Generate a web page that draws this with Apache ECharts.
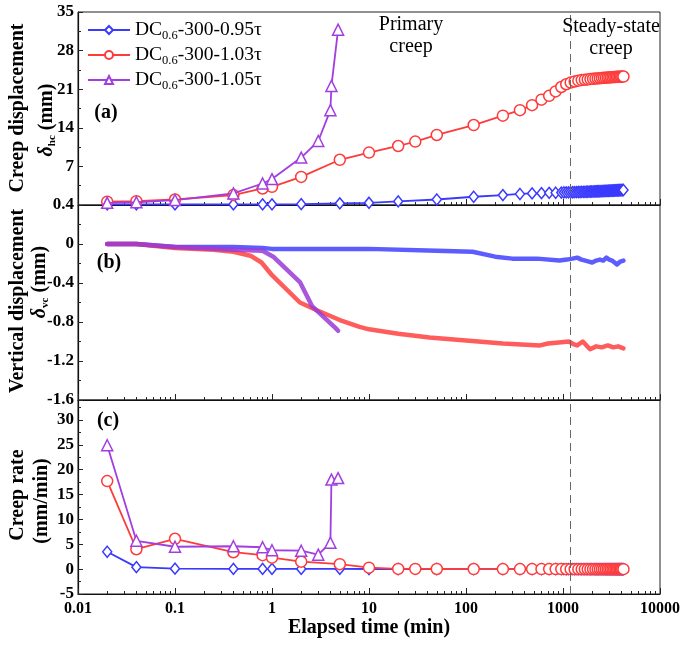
<!DOCTYPE html>
<html><head><meta charset="utf-8">
<script src="https://cdn.jsdelivr.net/npm/echarts@6/dist/echarts.min.js"></script>
<style>html,body{margin:0;padding:0;background:#fff}#c{width:685px;height:646px}</style>
</head><body><div id="c"></div>
<script>
// ---------- DATA ----------
const seriesNames = ['DC0.6-300-0.95τ', 'DC0.6-300-1.03τ', 'DC0.6-300-1.05τ'];
const xTickLabels = ['0.01', '0.1', '1', '10', '100', '1000', '10000'];

// Blue (0.95τ) sampled times (min)
const blueTimes = [0.02,0.04,0.1,0.4,0.8,1,2,5,10,20,50,120,240,360,480,600,720,840,960,
  1020,1080,1140,1200,1260,1320,1380,1440,1500,1560,1620,1680,1740,1800,1860,1920,1980,2040,2100,
  2160,2220,2280,2340,2400,2460,2520,2580,2640,2700,2760,2820,2880,2940,3000,3060,3120,3180,3240,
  3300,3360,3420,3480,3540,3600,3660,3720,3780,3840,3900,3960,4020,4080,4140,4200];
const blueCreepDisp = [0.1,0.1,0.1,0.1,0.1,0.12,0.15,0.3,0.4,0.65,1.0,1.5,1.8,2.0,2.1,2.15,2.2,2.22,2.25,
  2.28,2.29,2.3,2.31,2.32,2.33,2.34,2.35,2.36,2.37,
  2.38,2.39,2.4,2.41,2.42,2.43,2.44,2.45,2.46,2.47,
  2.48,2.49,2.5,2.5,2.51,2.52,2.53,2.54,2.55,2.55,
  2.56,2.57,2.58,2.59,2.6,2.6,2.61,2.62,2.63,2.63,
  2.64,2.65,2.66,2.66,2.67,2.68,2.68,2.69,2.7,2.7,
  2.71,2.71,2.72,2.72];
const blueCreepRate = [3.5,0.4,0.1,0.05,0.05,0.05,0.04,0.04,0.03,0.03,0.02,0.01,0.01,0.01,0.01,0.01,0.01,0.01,0.01,
  0,0,0,0,0,0,0,0,0,0, 0,0,0,0,0,0,0,0,0,0, 0,0,0,0,0,0,0,0,0,0,
  0,0,0,0,0,0,0,0,0,0, 0,0,0,0,0,0,0,0,0,0, 0,0,0,0];

// Red (1.03τ)
const redTimes = [0.02,0.04,0.1,0.4,0.8,1,2,5,10,20,30,50,120,240,360,480,600,720,840,960,
  1080,1200,1320,1440,1560,1680,1800,1920,2040,2160,2280,2400,2520,2640,2760,2880,3000,3120,3240,
  3360,3480,3600,3720,3840,3960,4080,4200];
const redCreepDisp = [0.6,0.7,1.0,1.8,3.0,3.3,5.1,8.2,9.5,10.7,11.5,12.7,14.5,16.2,17.2,18.1,19.1,19.8,20.6,21.4,
  21.9,22.2,22.4,22.55,22.65,22.72,22.78,22.84,22.88,22.92,
  22.96,23.0,23.03,23.06,23.09,23.12,23.14,23.16,23.18,23.2,
  23.22,23.24,23.26,23.27,23.28,23.29,23.3];
const redCreepRate = [17.7,4.0,6.1,3.4,2.8,2.3,1.5,1.0,0.3,0.05,0.04,0.03,0.02,0.01,0.01,0.01,0.01,0.01,0.01,0.01,
  0,0,0,0,0,0,0,0,0,0, 0,0,0,0,0,0,0,0,0,0, 0,0,0,0,0,0,0];

// Purple (1.05τ)
const purpleTimes = [0.02,0.04,0.1,0.4,0.8,1,2,3,4,4.1,4.8];
const purpleCreepDisp = [0.4,0.5,0.9,2.1,3.9,4.7,8.6,11.6,17.2,21.6,31.8];
const purpleCreepRate = [24.9,5.7,4.5,4.6,4.4,3.8,3.7,2.9,5.3,18.0,18.3];

// Vertical displacement (continuous records)
const blueVTimes = [0.02,0.04,0.1,0.4,0.8,1,2,5,10,50,117,200,300,540,920,1100,1250,1400,1550,1700,1850,2000,2200,2400,2600,2800,3000,3200,3400,3600,3900,4200];
const blueVert = [0,0,-0.03,-0.03,-0.04,-0.05,-0.05,-0.05,-0.05,-0.07,-0.08,-0.13,-0.15,-0.15,-0.17,-0.16,-0.15,-0.14,-0.16,-0.17,-0.18,-0.19,-0.17,-0.16,-0.17,-0.14,-0.16,-0.17,-0.19,-0.21,-0.18,-0.17];
const redVTimes = [0.02,0.04,0.1,0.25,0.4,0.6,0.78,1,1.94,2.9,5,8,10,20,42,100,240,580,700,900,1150,1300,1400,1600,1900,2200,2500,2900,3300,3700,4200];
const redVert = [0,0,-0.04,-0.06,-0.08,-0.12,-0.19,-0.32,-0.6,-0.68,-0.78,-0.85,-0.875,-0.92,-0.96,-0.99,-1.02,-1.04,-1.02,-1.01,-1.0,-1.03,-1.04,-1.0,-1.08,-1.05,-1.06,-1.04,-1.06,-1.05,-1.07];
const purpleVTimes = [0.02,0.04,0.1,0.4,0.8,1.03,1.94,2.6,4.5,4.8];
const purpleVert = [0,0,-0.03,-0.06,-0.07,-0.13,-0.39,-0.64,-0.86,-0.89];

const steadyStart = 1200; // dashed divider (min)

// ---------- STYLE ----------
const colors = ['#3a3aff', '#ff3a3a', '#a23ee0'];
const vColors = ['#3f3fff', '#ff4040', '#9a3bd6'];
const symbols = ['diamond', 'circle', 'triangle'];
const symSizes = [[9, 11], 11, 11];
const serif = 'Liberation Serif, Times New Roman, serif';

const zip = (t, v) => t.map((x, i) => [x, v[i]]);

const grids = [
  {left: 78, top: 12, width: 582, height: 193},
  {left: 78, top: 205, width: 582, height: 195},
  {left: 78, top: 400, width: 582, height: 194}
].map(g => Object.assign(g, {show: true, borderColor: '#222', borderWidth: 1, backgroundColor: 'transparent'}));

const xAxes = [0, 1, 2].map(i => ({
  type: 'log', logBase: 10, gridIndex: i, min: 0.01, max: 10000, splitNumber: 6,
  axisLine: {onZero: false, lineStyle: {color: '#111', width: 1.2}},
  axisTick: {show: true, inside: true, length: 6, lineStyle: {color: '#222', width: 1}},
  minorTick: {show: true, splitNumber: 9, length: 3, lineStyle: {color: '#222', width: 1}},
  splitLine: {show: false},
  axisLabel: {
    show: i === 2, margin: 7, color: '#000', fontFamily: serif, fontWeight: 'bold', fontSize: 16,
    formatter: v => {
      const s = String(Number(v.toPrecision(6)));
      return xTickLabels.indexOf(s) >= 0 ? s : '';
    }
  }
}));

const yBase = {
  type: 'value',
  axisLine: {show: true, onZero: false, lineStyle: {color: '#111', width: 1.2}},
  axisTick: {show: true, inside: true, length: 5, lineStyle: {color: '#222', width: 1}},
  minorTick: {show: true, splitNumber: 2, length: 3, lineStyle: {color: '#222', width: 1}},
  splitLine: {show: false},
  axisLabel: {margin: 4, color: '#000', fontFamily: serif, fontWeight: 'bold', fontSize: 17}
};
const yAxes = [
  Object.assign({}, yBase, {gridIndex: 0, min: 0, max: 35, interval: 7,
    axisLabel: Object.assign({}, yBase.axisLabel, {showMinLabel: false})}),
  Object.assign({}, yBase, {gridIndex: 1, min: -1.6, max: 0.4, interval: 0.4,
    axisLabel: Object.assign({}, yBase.axisLabel, {formatter: v => String(Math.round(v * 10) / 10)})}),
  Object.assign({}, yBase, {gridIndex: 2, min: -5, max: 34, interval: 5,
    axisLabel: Object.assign({}, yBase.axisLabel, {showMaxLabel: false,
      formatter: v => (v > 30 ? '' : String(v))})})
];

const markLine = {
  silent: true, symbol: 'none', label: {show: false},
  lineStyle: {type: [8, 5], color: '#666', width: 1},
  data: [{xAxis: steadyStart}]
};

function markerSeries(idx, grid, times, vals, withMark) {
  const s = {
    type: 'line', name: seriesNames[idx], xAxisIndex: grid, yAxisIndex: grid,
    data: zip(times, vals), symbol: symbols[idx], symbolSize: symSizes[idx], showAllSymbol: true,
    lineStyle: {color: colors[idx], width: 1.8},
    itemStyle: {color: '#fff', borderColor: colors[idx], borderWidth: 1.5},
    emphasis: {disabled: true}, z: 3 + idx
  };
  if (withMark) s.markLine = markLine;
  return s;
}
function vertSeries(idx, times, vals, withMark) {
  const s = {
    type: 'line', name: seriesNames[idx], xAxisIndex: 1, yAxisIndex: 1,
    data: zip(times, vals), showSymbol: false, symbol: 'none',
    lineStyle: {color: vColors[idx], width: 4.5, opacity: 0.85, cap: 'round', join: 'round'},
    itemStyle: {color: vColors[idx]},
    emphasis: {disabled: true}, z: 3 + idx
  };
  if (withMark) s.markLine = markLine;
  return s;
}

const series = [
  markerSeries(0, 0, blueTimes, blueCreepDisp, true),
  markerSeries(1, 0, redTimes, redCreepDisp, false),
  markerSeries(2, 0, purpleTimes, purpleCreepDisp, false),
  vertSeries(0, blueVTimes, blueVert, true),
  vertSeries(1, redVTimes, redVert, false),
  vertSeries(2, purpleVTimes, purpleVert, false),
  markerSeries(0, 2, blueTimes, blueCreepRate, true),
  markerSeries(1, 2, redTimes, redCreepRate, false),
  markerSeries(2, 2, purpleTimes, purpleCreepRate, false)
];

function vText(x, y, text, rich) {
  return {type: 'text', x: x, y: y, rotation: Math.PI / 2, z: 100, style: {
    text: text, fill: '#000', font: 'bold 20px ' + serif,
    align: 'center', verticalAlign: 'middle', textAlign: 'center', textVerticalAlign: 'middle',
    rich: rich
  }};
}
const deltaRich = {
  d: {fontFamily: serif, fontWeight: 'bold', fontStyle: 'italic', fontSize: 20, lineHeight: 22, verticalAlign: 'middle'},
  s: {fontFamily: serif, fontWeight: 'bold', fontSize: 11, lineHeight: 22, verticalAlign: 'bottom'},
  m: {fontFamily: serif, fontWeight: 'bold', fontSize: 20, lineHeight: 22, verticalAlign: 'middle'}
};
function hText(x, y, text, size, bold) {
  return {type: 'text', x: x, y: y, z: 100, style: {
    text: text, fill: '#000', font: (bold ? 'bold ' : '') + size + 'px ' + serif,
    align: 'center', verticalAlign: 'middle', textAlign: 'center', textVerticalAlign: 'middle',
    lineHeight: 22
  }};
}

const option = {
  animation: false,
  backgroundColor: '#fff',
  grid: grids, xAxis: xAxes, yAxis: yAxes, series: series,
  legend: {
    data: seriesNames, orient: 'vertical', left: 87, top: 20, itemWidth: 42, itemHeight: 10, itemGap: 3,
    selectedMode: false, padding: 0,
    formatter: n => '{n|DC}{s|0.6}{n|' + n.slice(5) + '}',
    textStyle: {color: '#000', fontFamily: serif, fontSize: 19.5, rich: {
      n: {fontFamily: serif, fontSize: 19.5, color: '#000', lineHeight: 24, verticalAlign: 'middle'},
      s: {fontFamily: serif, fontSize: 12.5, color: '#000', lineHeight: 12, verticalAlign: 'bottom'}
    }}
  },
  graphic: [
    vText(18, 108, 'Creep displacement'),
    vText(47, 120, '{d|δ}{s|hc}{m| (mm)}', deltaRich),
    vText(18, 301, 'Vertical displacement'),
    vText(40, 282, '{d|δ}{s|vc}{m| (mm)}', deltaRich),
    vText(18, 495, 'Creep rate'),
    vText(42, 501, '(mm/min)'),
    hText(106, 113, '(a)', 20, true),
    hText(109, 263, '(b)', 20, true),
    hText(108, 421, '(c)', 20, true),
    hText(411, 36, 'Primary\ncreep', 20, false),
    hText(611, 38, 'Steady-state\ncreep', 20, false),
    hText(369, 628, 'Elapsed time (min)', 20, true)
  ]
};
echarts.init(document.getElementById('c'), null, {renderer: 'canvas'}).setOption(option);
</script>
</body></html>
